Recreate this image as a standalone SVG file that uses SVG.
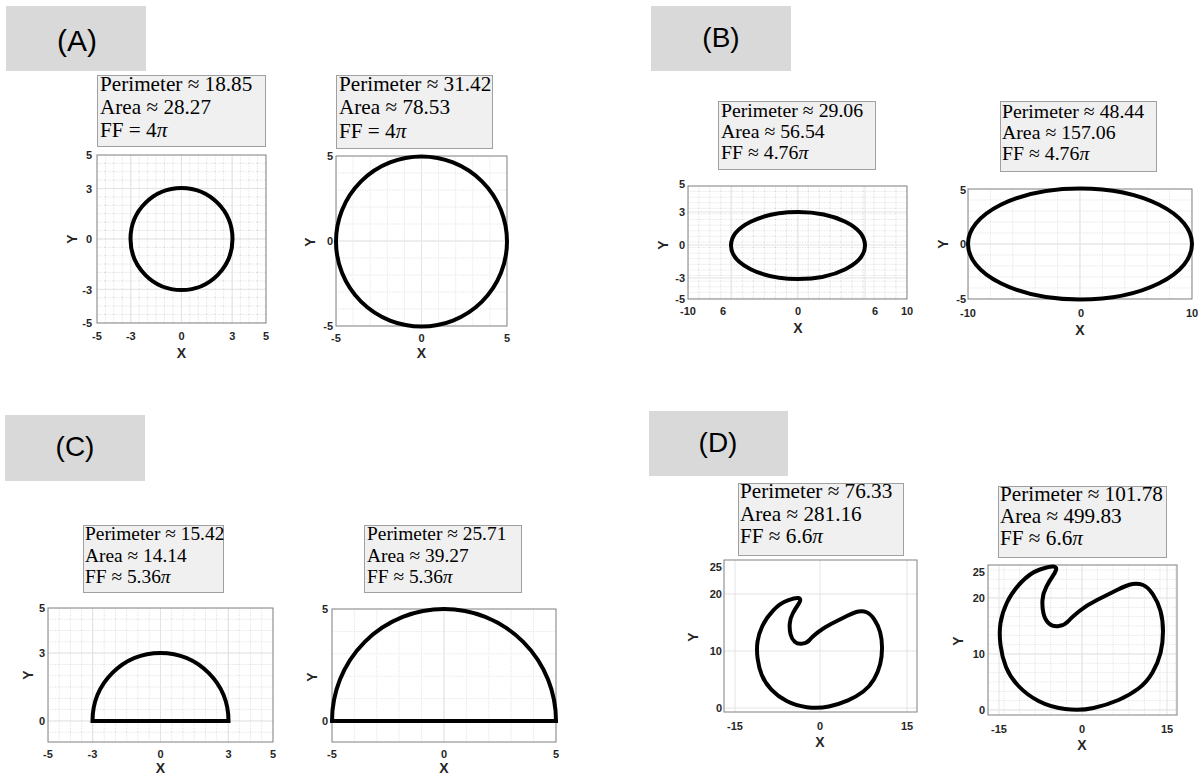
<svg xmlns="http://www.w3.org/2000/svg" xmlns:xlink="http://www.w3.org/1999/xlink" width="1201" height="778" viewBox="0 0 1201 778">
<style>
.hdr{fill:#d9d9d9}
.ht{font-family:"Liberation Sans",Arial,sans-serif;font-size:28px;fill:#000;text-anchor:middle}
.lb{fill:#f0f0f0;stroke:#a0a0a0;stroke-width:1}
.lt{font-family:"Liberation Serif","DejaVu Serif",serif;font-size:20px;fill:#000}
.big .lt{font-size:21.2px}
.mid .lt{font-size:19.8px}
.sml .lt{font-size:19.4px}
.pi{font-style:italic}
.ax{fill:none;stroke:#808080;stroke-width:1}
.gm{fill:none;stroke:#e3e3e3;stroke-width:1}
.gn{fill:none;stroke:#d4d4d4;stroke-width:0.8;stroke-dasharray:1 1.5}
.sh{fill:none;stroke:#000;stroke-width:4}
.tk{font-family:"Liberation Sans",Arial,sans-serif;font-size:11px;font-weight:bold;fill:#262626;text-anchor:middle}
.tky{font-family:"Liberation Sans",Arial,sans-serif;font-size:11px;font-weight:bold;fill:#262626;text-anchor:end}
.al{font-family:"Liberation Sans",Arial,sans-serif;font-size:14px;font-weight:bold;fill:#262626;text-anchor:middle}
</style>
<defs>
<pattern id="pA1" patternUnits="userSpaceOnUse" x="96.5" y="154.5" width="8.45" height="8.4"><path class="gn" d="M0.5 0V8.4M0 0.5H8.45"/></pattern>
<pattern id="pA2" patternUnits="userSpaceOnUse" x="335.5" y="155.5" width="17.1" height="17"><path class="gn" d="M0.5 0V17M0 0.5H17.1"/></pattern>
<pattern id="pB1" patternUnits="userSpaceOnUse" x="687.5" y="185.5" width="10.95" height="5.6"><path class="gn" d="M0.5 0V5.6M0 0.5H10.95"/></pattern>
<pattern id="pB2" patternUnits="userSpaceOnUse" x="967.5" y="188.5" width="22.4" height="11"><path class="gn" d="M0.5 0V11M0 0.5H22.4"/></pattern>
<pattern id="pC1" patternUnits="userSpaceOnUse" x="47.5" y="607.5" width="11.25" height="11.3"><path class="gn" d="M0.5 0V11.3M0 0.5H11.25"/></pattern>
<pattern id="pC2" patternUnits="userSpaceOnUse" x="331.5" y="608.5" width="22.4" height="22.4"><path class="gn" d="M0.5 0V22.4M0 0.5H22.4"/></pattern>
<pattern id="pD2" patternUnits="userSpaceOnUse" x="1081.5" y="709.5" width="15.6" height="9.33"><path class="gn" d="M0.5 0V9.33M0 0.5H15.6"/></pattern>
<path id="dshape" fill="none" stroke="#000" stroke-linejoin="round" d="M1056 570Q1057 567 1053.5 566.5Q1050 566 1040 569.5Q1030 573 1021 582.5Q1012 592 1007 602.5Q1002 613 1000.5 623Q999 633 1000.5 645Q1002 657 1006 667Q1010 677 1018.5 686Q1027 695 1038.5 701Q1050 707 1065 709Q1080 711 1093.5 708Q1107 705 1118.5 700Q1130 695 1138.5 688.5Q1147 682 1152.5 672.5Q1158 663 1160.5 653Q1163 643 1163 631.5Q1163 620 1160.5 611Q1158 602 1153 594.5Q1148 587 1143 585Q1138 583 1132.5 584Q1127 585 1117 590Q1107 595 1097 600Q1087 605 1079.5 611Q1072 617 1068.5 621Q1065 625 1059 626Q1053 627 1049 623.5Q1045 620 1043.5 613.5Q1042 607 1042.5 600Q1043 593 1046.5 586.5Q1050 580 1052.5 576.5Q1055 573 1056 570Z"/>
</defs>
<rect width="1201" height="778" fill="#fff"/>

<g id="panelA">
<rect class="hdr" x="6" y="6" width="140" height="65"/>
<text class="ht" x="77" y="51" style="font-size:30px">(A)</text>
<g id="A1" class="big">
<rect class="lb" x="97.5" y="75.5" width="168" height="71"/>
<text class="lt" x="100" y="91">Perimeter ≈ 18.85</text>
<text class="lt" x="100" y="114">Area ≈ 28.27</text>
<text class="lt" x="100" y="137">FF = 4<tspan class="pi">π</tspan></text>
<rect x="97" y="155" width="169" height="168" fill="url(#pA1)"/>
<path class="gm" d="M130.8 155V323M181.5 155V323M232.2 155V323M97 188.6H266M97 239H266M97 289.4H266"/>
<rect class="ax" x="97" y="155" width="169" height="168"/>
<circle class="sh" cx="181.5" cy="239" r="51"/>
<text class="tk" x="97" y="340">-5</text><text class="tk" x="130.8" y="340">-3</text><text class="tk" x="181.5" y="340">0</text><text class="tk" x="232.2" y="340">3</text><text class="tk" x="266" y="340">5</text>
<text class="tky" x="92" y="159">5</text><text class="tky" x="92" y="192.5">3</text><text class="tky" x="92" y="243">0</text><text class="tky" x="92" y="293.5">-3</text><text class="tky" x="92" y="327">-5</text>
<text class="al" x="181.5" y="358">X</text>
<text class="al" transform="translate(77 239) rotate(-90)">Y</text>
</g>
<g id="A2" class="big">
<rect class="lb" x="336.5" y="75.5" width="156" height="73"/>
<text class="lt" x="339" y="91">Perimeter ≈ 31.42</text>
<text class="lt" x="339" y="114">Area ≈ 78.53</text>
<text class="lt" x="339" y="138">FF = 4<tspan class="pi">π</tspan></text>
<rect x="336" y="156" width="171" height="170" fill="url(#pA2)"/>
<path class="gm" d="M421.5 156V326M336 241H507"/>
<rect class="ax" x="336" y="156" width="171" height="170"/>
<ellipse class="sh" cx="421.5" cy="241.5" rx="85.5" ry="85"/>
<text class="tk" x="336" y="342">-5</text><text class="tk" x="421.5" y="342">0</text><text class="tk" x="507" y="342">5</text>
<text class="tky" x="333" y="160">5</text><text class="tky" x="333" y="245">0</text><text class="tky" x="333" y="330">-5</text>
<text class="al" x="421.5" y="358">X</text>
<text class="al" transform="translate(315 242) rotate(-90)">Y</text>
</g>
</g>

<g id="panelB">
<rect class="hdr" x="651" y="6" width="140" height="65"/>
<text class="ht" x="721" y="47">(B)</text>
<g id="B1" class="mid">
<rect class="lb" x="718.5" y="101.5" width="157" height="68"/>
<text class="lt" x="721" y="117">Perimeter ≈ 29.06</text>
<text class="lt" x="721" y="138">Area ≈ 56.54</text>
<text class="lt" x="721" y="159">FF ≈ 4.76<tspan class="pi">π</tspan></text>
<rect x="688" y="186" width="219" height="113" fill="url(#pB1)"/>
<path class="gm" d="M731 186V299M798 186V299M865 186V299M688 212H907M688 245H907M688 278H907"/>
<rect class="ax" x="688" y="186" width="219" height="113"/>
<ellipse class="sh" cx="798" cy="245.5" rx="67" ry="33.5"/>
<text class="tk" x="688" y="315">-10</text><text class="tk" x="723" y="315">6</text><text class="tk" x="798" y="315">0</text><text class="tk" x="875" y="315">6</text><text class="tk" x="907" y="315">10</text>
<text class="tky" x="685" y="188">5</text><text class="tky" x="685" y="216">3</text><text class="tky" x="685" y="249">0</text><text class="tky" x="685" y="282">-3</text><text class="tky" x="685" y="303">-5</text>
<text class="al" x="798" y="333">X</text>
<text class="al" transform="translate(668 245) rotate(-90)">Y</text>
</g>
<g id="B2" class="mid">
<rect class="lb" x="1000.5" y="101.5" width="156" height="70"/>
<text class="lt" x="1002" y="118">Perimeter ≈ 48.44</text>
<text class="lt" x="1002" y="139">Area ≈ 157.06</text>
<text class="lt" x="1002" y="160">FF ≈ 4.76<tspan class="pi">π</tspan></text>
<rect x="968" y="189" width="224" height="110" fill="url(#pB2)"/>
<path class="gm" d="M1080 189V299M968 244H1192"/>
<rect class="ax" x="968" y="189" width="224" height="110"/>
<ellipse class="sh" cx="1080" cy="244" rx="112" ry="55.5"/>
<text class="tk" x="968" y="317">-10</text><text class="tk" x="1081" y="317">0</text><text class="tk" x="1192" y="317">10</text>
<text class="tky" x="966" y="194">5</text><text class="tky" x="966" y="248">0</text><text class="tky" x="966" y="303">-5</text>
<text class="al" x="1080" y="335">X</text>
<text class="al" transform="translate(948 244) rotate(-90)">Y</text>
</g>
</g>

<g id="panelC">
<rect class="hdr" x="5" y="415" width="140" height="66"/>
<text class="ht" x="75" y="456">(C)</text>
<g id="C1" class="sml">
<rect class="lb" x="83.5" y="525.5" width="140" height="67"/>
<text class="lt" x="85" y="540">Perimeter ≈ 15.42</text>
<text class="lt" x="85" y="562">Area ≈ 14.14</text>
<text class="lt" x="85" y="583">FF ≈ 5.36<tspan class="pi">π</tspan></text>
<rect x="48" y="608" width="225" height="134" fill="url(#pC1)"/>
<path class="gm" d="M92.5 608V742M160.5 608V742M228.5 608V742M48 653H273M48 721H273"/>
<rect class="ax" x="48" y="608" width="225" height="134"/>
<path class="sh" d="M92.5 721A68 68 0 0 1 228.5 721Z"/>
<text class="tk" x="48" y="758">-5</text><text class="tk" x="92.5" y="758">-3</text><text class="tk" x="160.5" y="758">0</text><text class="tk" x="228.5" y="758">3</text><text class="tk" x="273" y="758">5</text>
<text class="tky" x="45" y="612">5</text><text class="tky" x="45" y="657">3</text><text class="tky" x="45" y="725">0</text>
<text class="al" x="160.5" y="773">X</text>
<text class="al" transform="translate(33 675) rotate(-90)">Y</text>
</g>
<g id="C2" class="sml">
<rect class="lb" x="364.5" y="525.5" width="157" height="67"/>
<text class="lt" x="367" y="540">Perimeter ≈ 25.71</text>
<text class="lt" x="367" y="562">Area ≈ 39.27</text>
<text class="lt" x="367" y="583">FF ≈ 5.36<tspan class="pi">π</tspan></text>
<rect x="332" y="609" width="224" height="133" fill="url(#pC2)"/>
<path class="gm" d="M444 609V742M332 721H556"/>
<rect class="ax" x="332" y="609" width="224" height="133"/>
<path class="sh" d="M332 721A112 112 0 0 1 556 721Z"/>
<text class="tk" x="332" y="758">-5</text><text class="tk" x="444" y="758">0</text><text class="tk" x="556" y="758">5</text>
<text class="tky" x="328" y="613">5</text><text class="tky" x="328" y="725">0</text>
<text class="al" x="444" y="773">X</text>
<text class="al" transform="translate(317 677) rotate(-90)">Y</text>
</g>
</g>

<g id="panelD">
<rect class="hdr" x="649" y="411" width="139" height="65"/>
<text class="ht" x="718" y="452">(D)</text>
<g id="D1" class="big">
<rect class="lb" x="738.5" y="483.5" width="165" height="72"/>
<text class="lt" x="740" y="498">Perimeter ≈ 76.33</text>
<text class="lt" x="740" y="521">Area ≈ 281.16</text>
<text class="lt" x="740" y="543">FF ≈ 6.6<tspan class="pi">π</tspan></text>
<path class="gm" d="M735 560V712M820 560V712M907 560V712M724 594H917M724 651H917M724 708H917"/>
<rect class="ax" x="724" y="560" width="193" height="152"/>
<use href="#dshape" xlink:href="#dshape" stroke-width="5.2" transform="translate(820 708) scale(0.766) translate(-1082 -710)"/>
<text class="tk" x="735" y="730">-15</text><text class="tk" x="820" y="730">0</text><text class="tk" x="907" y="730">15</text>
<text class="tky" x="722" y="571">25</text><text class="tky" x="722" y="598">20</text><text class="tky" x="722" y="655">10</text><text class="tky" x="722" y="712">0</text>
<text class="al" x="820" y="747">X</text>
<text class="al" transform="translate(698 637) rotate(-90)">Y</text>
</g>
<g id="D2" class="big">
<rect class="lb" x="998.5" y="486.5" width="168" height="71"/>
<text class="lt" x="1000" y="501">Perimeter ≈ 101.78</text>
<text class="lt" x="1000" y="523">Area ≈ 499.83</text>
<text class="lt" x="1000" y="545">FF ≈ 6.6<tspan class="pi">π</tspan></text>
<rect x="988" y="565" width="189" height="150" fill="url(#pD2)"/>
<path class="gm" d="M999 565V715M1082 565V715M1167 565V715M988 598H1177M988 654H1177M988 710H1177"/>
<rect class="ax" x="988" y="565" width="189" height="150"/>
<use href="#dshape" xlink:href="#dshape" stroke-width="4"/>
<text class="tk" x="999" y="733">-15</text><text class="tk" x="1082" y="733">0</text><text class="tk" x="1167" y="733">15</text>
<text class="tky" x="985" y="576">25</text><text class="tky" x="985" y="602">20</text><text class="tky" x="985" y="658">10</text><text class="tky" x="985" y="714">0</text>
<text class="al" x="1082" y="750">X</text>
<text class="al" transform="translate(963 641) rotate(-90)">Y</text>
</g>
</g>
</svg>
